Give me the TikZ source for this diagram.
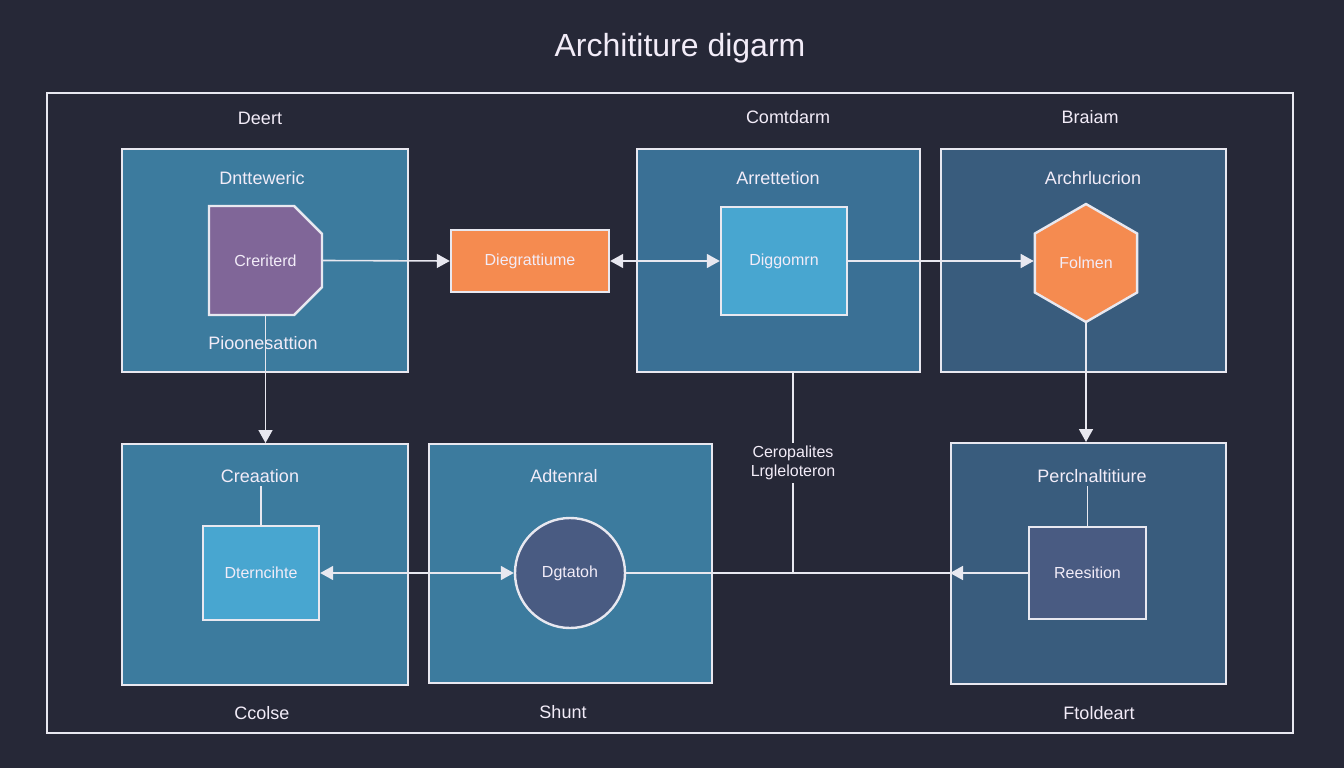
\documentclass[tikz,border=0pt]{standalone}
\usepackage{fontspec}
\setmainfont{Liberation Sans}
\usepackage{tikz}
\usetikzlibrary{arrows.meta, positioning, shapes.geometric, shapes.misc}
\definecolor{bgdark}{RGB}{38, 40, 55}
\definecolor{linecolor}{RGB}{232, 232, 240}
\definecolor{textcolor}{RGB}{242, 236, 248}
\definecolor{grpblue}{RGB}{60, 123, 158}
\definecolor{grpmid}{RGB}{58, 112, 149}
\definecolor{grpdeep}{RGB}{57, 92, 125}
\definecolor{cellblue}{RGB}{72, 166, 208}
\definecolor{cellorange}{RGB}{245, 139, 80}
\definecolor{cellpurple}{RGB}{128, 102, 152}
\definecolor{cellnavy}{RGB}{73, 91, 130}

\tikzset{
    grpbox/.style={draw=linecolor, line width=2pt, inner sep=0pt},
    cellbox/.style={draw=linecolor, line width=2.4pt, text=textcolor, font=\fontsize{16}{19}\selectfont},
    grptitle/.style={text=textcolor, font=\fontsize{18}{21}\selectfont},
    wire/.style={draw=linecolor, line width=1.6pt},
    arr/.style={wire, -{Triangle[length=13pt,width=14pt]}},
    dblarr/.style={wire, {Triangle[length=13pt,width=14pt]}-{Triangle[length=13pt,width=14pt]}}
}

\begin{document}
\begin{tikzpicture}[x=1pt, y=-1pt]
% background and frame
\fill[bgdark] (0,0) rectangle (1344,768);
\draw[linecolor, line width=1.6pt] (47,93) rectangle (1293,733);
\node[text=textcolor, font=\fontsize{32}{36}\selectfont] (title) at (680,48) {Archititure digarm};

% group boxes
\node[grpbox, fill=grpblue, minimum width=286pt, minimum height=223pt] (grpTL) at (265,260.5) {};
\node[grpbox, fill=grpmid, minimum width=283pt, minimum height=223pt] (grpTM) at (778.5,260.5) {};
\node[grpbox, fill=grpdeep, minimum width=285pt, minimum height=223pt] (grpTR) at (1083.5,260.5) {};
\node[grpbox, fill=grpblue, minimum width=286pt, minimum height=241pt] (grpBL) at (265,564.5) {};
\node[grpbox, fill=grpblue, minimum width=283pt, minimum height=239pt] (grpBM) at (570.5,563.5) {};
\node[grpbox, fill=grpdeep, minimum width=275pt, minimum height=241pt] (grpBR) at (1088.5,563.5) {};

% labels outside the groups
\node[grptitle] (lblTL) at (260,118) {Deert};
\node[grptitle] (lblTM) at (788,117) {Comtdarm};
\node[grptitle] (lblTR) at (1090,117) {Braiam};
\node[grptitle] (lblBL) at (262,713) {Ccolse};
\node[grptitle] (lblBM) at (563,712) {Shunt};
\node[grptitle] (lblBR) at (1099,713) {Ftoldeart};

% titles inside the groups
\node[grptitle] (ttlTL) at (262,178) {Dntteweric};
\node[grptitle] (ttlTM) at (778,178) {Arrettetion};
\node[grptitle] (ttlTR) at (1093,178) {Archrlucrion};
\node[grptitle] (ttlBL) at (260,476) {Creaation};
\node[grptitle] (ttlBM) at (564,476) {Adtenral};
\node[grptitle] (ttlBR) at (1092,476) {Perclnaltitiure};
\node[grptitle] (prsn) at (263,343) {Pioonesattion};

% inner cells
\node[cellbox, fill=cellpurple, chamfered rectangle, chamfered rectangle corners={north east, south east}, chamfered rectangle xsep=22pt, chamfered rectangle ysep=22pt, minimum width=113pt, minimum height=109pt, inner sep=0pt] (crer) at (265.5,260.5) {Creriterd};
\node[cellbox, fill=cellorange, minimum width=158pt, minimum height=62pt] (dieg) at (530,261) {Diegrattiume};
\node[cellbox, fill=cellblue, minimum width=126pt, minimum height=108pt] (digg) at (784,261) {Diggomrn};
\node[cellbox, fill=cellorange, regular polygon, regular polygon sides=6, shape border rotate=30, minimum size=118pt, inner sep=0pt] (folm) at (1086,263) {Folmen};
\node[cellbox, fill=cellblue, minimum width=116pt, minimum height=94pt] (dtem) at (261,573) {Dterncihte};
\node[cellbox, fill=cellnavy, circle, minimum size=110pt, inner sep=0pt] (dgta) at (570,573) {Dgtatoh};
\node[cellbox, fill=cellnavy, minimum width=117pt, minimum height=92pt] (resi) at (1087.5,573) {Reesition};
\node[grptitle, align=center, font=\fontsize{16}{19}\selectfont] (cerop) at (793,463) {Ceropalites\\Lrgleloteron};

% connectors
\draw[arr] (crer.east) -- (dieg.west);
\draw[dblarr] (dieg.east) -- (digg.west);
\draw[arr] (digg.east) -- (digg.east -| folm.west);
\draw[arr] (folm.south) -- (grpBR.north -| folm.south);
\draw[arr] (crer.south) -- (grpBL.north -| crer.south);
\draw[dblarr] (dtem.east) -- (dgta.west);
\draw[wire] (dgta.east) -- (grpBR.west |- dgta.east);
\draw[arr] (resi.west) -- (grpBR.west |- resi.west);
\draw[wire] (cerop.north |- grpTM.south) -- (cerop.north);
\draw[wire] (cerop.south) -- (cerop.south |- dgta.east);
\draw[wire] (dtem.north |- ttlBL.south) -- (dtem.north);
\draw[wire] (resi.north |- ttlBR.south) -- (resi.north);
\end{tikzpicture}
\end{document}
